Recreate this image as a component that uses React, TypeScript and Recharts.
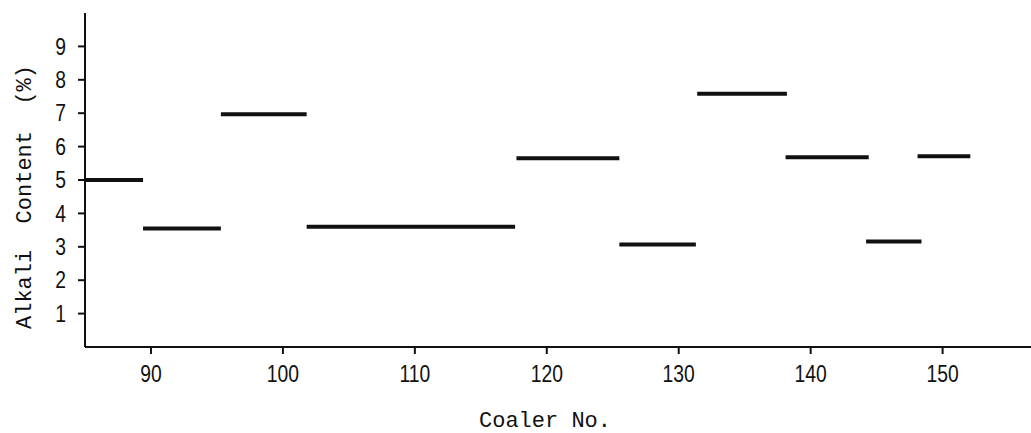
import { LineChart, Line, XAxis, YAxis, Label } from 'recharts'

// each run of coalers: start / end coaler number and its alkali content
const segStart = [85, 89.4, 95.3, 101.8, 117.7, 125.5, 131.4, 138.1, 144.2, 148.1]
const segEnd = [89.4, 95.3, 101.8, 117.6, 125.5, 131.3, 138.2, 144.4, 148.4, 152.1]
const alkali = [5.0, 3.55, 6.97, 3.6, 5.65, 3.07, 7.58, 5.68, 3.16, 5.71]

const xTicks = [90, 100, 110, 120, 130, 140, 150]
const yTicks = [1, 2, 3, 4, 5, 6, 7, 8, 9]

const INK = '#111'
const NUM_FONT = "'Liberation Sans Narrow', 'Liberation Sans', Arial, sans-serif"
const TYPE_FONT = "'Liberation Mono', 'DejaVu Sans Mono', monospace"

const segments = segStart.map((s, i) => ({
  id: i,
  points: [
    { x: s, y: alkali[i] },
    { x: segEnd[i], y: alkali[i] },
  ],
}))

// narrow typeset digits, like the old scanned figure
function NarrowTick(props: any) {
  const { x, y, payload, textAnchor, orientation } = props
  const dy = orientation === 'bottom' ? '0.71em' : '0.355em'
  return (
    <g transform={`translate(${x},${y}) scale(0.84,1)`}>
      <text
        x={0}
        y={0}
        dy={dy}
        textAnchor={textAnchor}
        fontFamily={NUM_FONT}
        fontSize={23}
        fill={INK}
      >
        {payload.value}
      </text>
    </g>
  )
}

function XTitle() {
  return (
    <text x={545} y={427} textAnchor="middle" fontFamily={TYPE_FONT} fontSize={22} fill={INK}>
      Coaler No.
    </text>
  )
}

function YTitle() {
  return (
    <text
      x={31}
      y={197}
      transform="rotate(-90 31 197)"
      textAnchor="middle"
      fontFamily={TYPE_FONT}
      fontSize={22}
      fill={INK}
      style={{ whiteSpace: 'pre' }}
    >
      {'Alkali\u00a0\u00a0Content\u00a0\u00a0(%)'}
    </text>
  )
}

export default function App() {
  return (
    <div style={{ position: 'absolute', left: 0, top: 0, background: '#fff' }}>
      <LineChart width={1031} height={433} margin={{ top: 13, right: 0, bottom: 0, left: 0 }}>
        <XAxis
          type="number"
          dataKey="x"
          domain={[85, 156.7]}
          allowDataOverflow
          ticks={xTicks}
          height={86}
          tickSize={7}
          tickMargin={12}
          stroke={INK}
          strokeWidth={2}
          tick={<NarrowTick orientation="bottom" />}
        >
          <Label content={XTitle} />
        </XAxis>
        <YAxis
          type="number"
          domain={[0, 10]}
          allowDataOverflow
          ticks={yTicks}
          width={85}
          tickSize={7}
          tickMargin={12}
          stroke={INK}
          strokeWidth={2}
          tick={<NarrowTick orientation="left" />}
        >
          <Label content={YTitle} />
        </YAxis>
        {segments.map((seg) => (
          <Line
            key={seg.id}
            data={seg.points}
            dataKey="y"
            type="linear"
            stroke={INK}
            strokeWidth={4}
            dot={false}
            activeDot={false}
            isAnimationActive={false}
          />
        ))}
      </LineChart>
    </div>
  )
}
